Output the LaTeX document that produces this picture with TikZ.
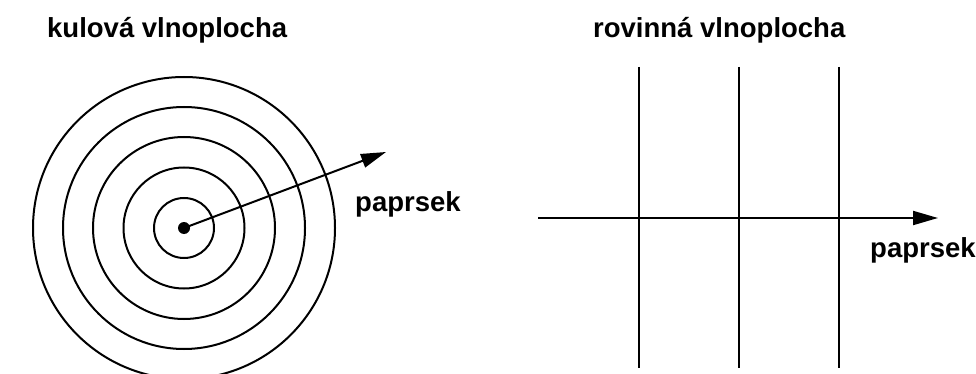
\documentclass[tikz,border=0pt]{standalone}
\usepackage{fontspec}
\setmainfont{Liberation Sans}
\usetikzlibrary{arrows.meta}
\begin{document}
\begin{tikzpicture}[x=1pt,y=-1pt,
  wave/.style={line width=2pt,black},
  ray/.style={line width=2pt,black,-{Triangle[length=25pt,width=14pt]}},
  label/.style={inner sep=0pt,anchor=base west,font=\fontsize{27.5}{32}\selectfont\bfseries}]
\useasboundingbox (0,0) rectangle (976,374);
\fill[white] (0,0) rectangle (976,374);
\clip (0,0) rectangle (976,374);
% titles
\node[label] (t1) at (47,38) {kulová vlnoplocha};
\node[label] (t2) at (593,38) {rovinná vlnoplocha};
% spherical wavefront
\coordinate (c) at (184,228);
\foreach \r/\n in {30/1,60.5/2,91/3,121/4,151/5}
  \draw[wave] (c) circle[radius=\r];
\node[circle,fill=black,inner sep=0pt,minimum size=12pt] (dot) at (c) {};
\coordinate (tipL) at (386,152);
\draw[ray] (dot.center) -- (tipL);
\node[label] (p1) at (355,211) {paprsek};
% plane wavefront
\foreach \x/\n in {639/a,739/b,839/c}{
  \coordinate (top\n) at (\x,67);
  \coordinate (bot\n) at (\x,368);
  \draw[wave] (top\n) -- (bot\n);
}
\coordinate (rs) at (538,218);
\coordinate (tipR) at (938,218);
\draw[ray] (rs) -- (tipR);
\node[label] (p2) at (870,257) {paprsek};
\end{tikzpicture}
\end{document}
